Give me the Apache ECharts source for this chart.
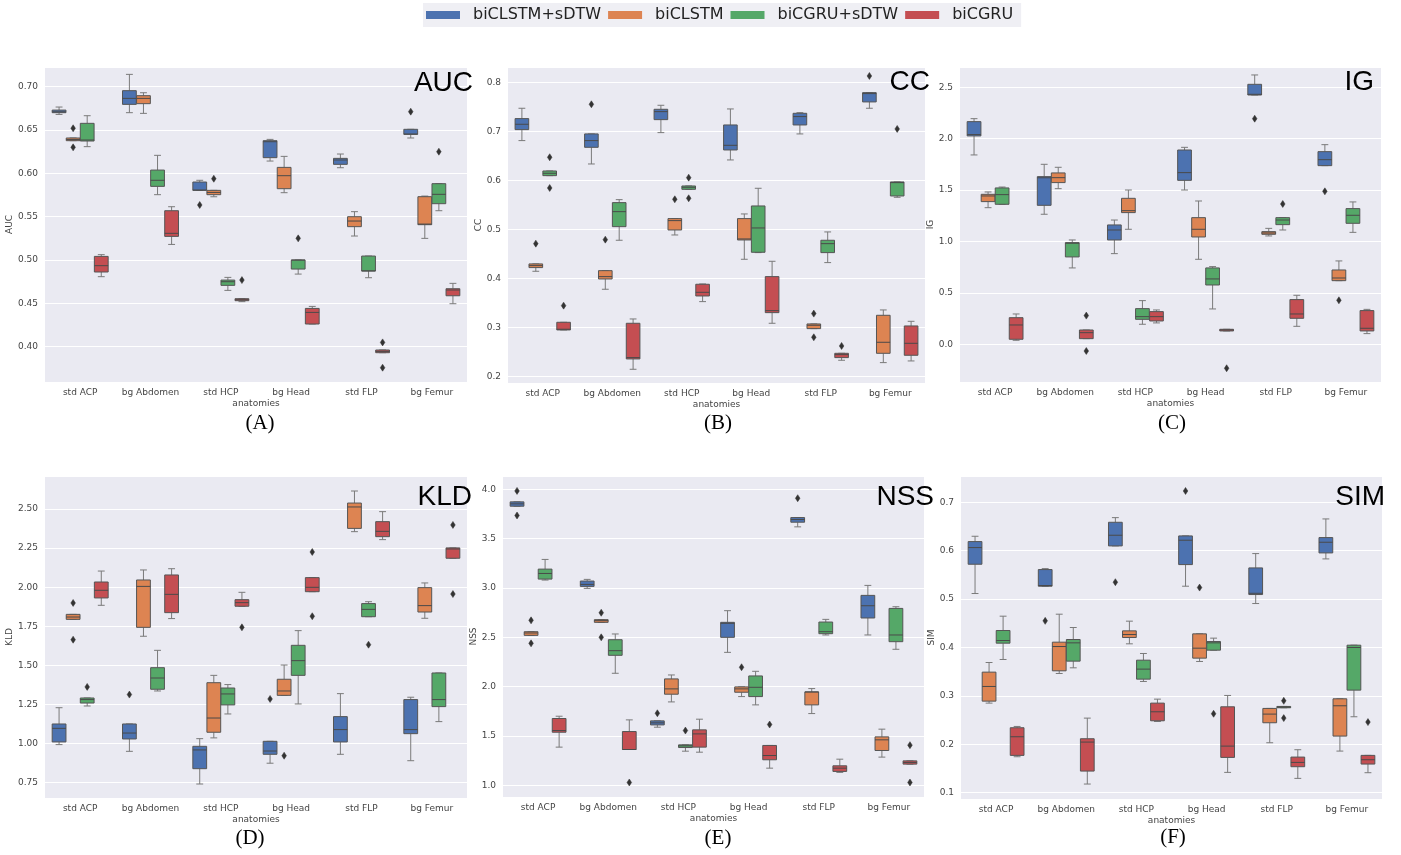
<!DOCTYPE html>
<html>
<head>
<meta charset="utf-8">
<title>Saliency metrics per anatomy</title>
<script src="https://cdn.jsdelivr.net/npm/echarts@6/dist/echarts.min.js"></script>
<style>
  html, body { margin: 0; padding: 0; background: #fff; }
  #main { width: 1401px; height: 855px; }
</style>
</head>
<body>
<div id="main"></div>
<script>
var anatomies = ['std ACP', 'bg Abdomen', 'std HCP', 'bg Head', 'std FLP', 'bg Femur'];
var models = ['biCLSTM+sDTW', 'biCLSTM', 'biCGRU+sDTW', 'biCGRU'];
var metrics = ['AUC', 'CC', 'IG', 'KLD', 'NSS', 'SIM'];
var letters = ['(A)', '(B)', '(C)', '(D)', '(E)', '(F)'];

// one block per model, one row per anatomy: [low whisker, q1, median, q3, high whisker]
var aucBoxes = [
  [[0.668, 0.670, 0.671, 0.673, 0.6765], [0.670, 0.6796, 0.6865, 0.6954, 0.7142], [0.5804, 0.5804, 0.5808, 0.590, 0.592],
   [0.6142, 0.6181, 0.6365, 0.6377, 0.6392], [0.6065, 0.6104, 0.6154, 0.6173, 0.6223], [0.6408, 0.645, 0.6454, 0.6508, 0.6508]],
  [[0.6377, 0.6377, 0.639, 0.6408, 0.6408], [0.6692, 0.6804, 0.6865, 0.6896, 0.693], [0.573, 0.5754, 0.578, 0.5804, 0.5804],
   [0.5777, 0.5823, 0.5973, 0.6069, 0.6196], [0.5277, 0.5385, 0.545, 0.55, 0.5558], [0.525, 0.5408, 0.5415, 0.5731, 0.5738]],
  [[0.6308, 0.6373, 0.6385, 0.6577, 0.6665], [0.5754, 0.585, 0.592, 0.6038, 0.6208], [0.465, 0.4708, 0.475, 0.4769, 0.48],
   [0.4838, 0.4896, 0.50, 0.50, 0.50], [0.4796, 0.4873, 0.4875, 0.5046, 0.5046], [0.5569, 0.565, 0.5758, 0.5881, 0.5881]],
  [[0.4808, 0.4862, 0.4935, 0.5042, 0.5062], [0.518, 0.5273, 0.5308, 0.5569, 0.5615], [0.452, 0.4531, 0.4542, 0.4554, 0.4554],
   [0.4262, 0.4262, 0.4396, 0.4442, 0.4465], [0.3931, 0.3931, 0.3946, 0.3962, 0.3962], [0.4496, 0.4588, 0.4654, 0.4669, 0.4731]]
];
var ccBoxes = [
  [[0.681, 0.7034, 0.7143, 0.7259, 0.747], [0.6333, 0.6673, 0.681, 0.6946, 0.6946], [0.6973, 0.7238, 0.7401, 0.7449, 0.7531],
   [0.6415, 0.6619, 0.6714, 0.7129, 0.7456], [0.6946, 0.7129, 0.73, 0.7367, 0.738], [0.747, 0.7599, 0.7769, 0.7789, 0.7789]],
  [[0.4143, 0.4218, 0.4259, 0.4293, 0.4293], [0.3776, 0.3986, 0.4034, 0.4156, 0.4156], [0.4884, 0.4986, 0.5177, 0.5218, 0.5218],
   [0.4388, 0.4782, 0.4803, 0.5218, 0.5313], [0.2973, 0.2973, 0.3041, 0.3068, 0.3068], [0.2279, 0.2469, 0.2694, 0.3245, 0.3354]],
  [[0.6095, 0.6095, 0.6143, 0.619, 0.619], [0.4776, 0.5054, 0.536, 0.5544, 0.5605], [0.5816, 0.5816, 0.5857, 0.5884, 0.5884],
   [0.4524, 0.4531, 0.5027, 0.5476, 0.5837], [0.432, 0.4524, 0.4707, 0.4776, 0.4946], [0.5653, 0.568, 0.5952, 0.5966, 0.5966]],
  [[0.2946, 0.2946, 0.296, 0.3102, 0.3102], [0.2143, 0.2354, 0.2381, 0.3082, 0.317], [0.3524, 0.3639, 0.3714, 0.3878, 0.3884],
   [0.3082, 0.3299, 0.334, 0.4034, 0.4347], [0.2327, 0.2381, 0.2442, 0.2469, 0.2469], [0.2313, 0.2429, 0.2673, 0.3027, 0.3122]]
];
var igBoxes = [
  [[1.842, 2.027, 2.04, 2.166, 2.195], [1.265, 1.352, 1.62, 1.631, 1.751], [0.882, 1.015, 1.112, 1.161, 1.209],
   [1.501, 1.595, 1.670, 1.890, 1.916], [2.425, 2.425, 2.432, 2.529, 2.620], [1.738, 1.738, 1.796, 1.874, 1.942]],
  [[1.329, 1.388, 1.443, 1.459, 1.482], [1.514, 1.573, 1.621, 1.667, 1.722], [1.119, 1.281, 1.30, 1.420, 1.501],
   [0.827, 1.044, 1.119, 1.232, 1.394], [1.054, 1.070, 1.083, 1.096, 1.128], [0.619, 0.619, 0.645, 0.723, 0.811]],
  [[1.362, 1.362, 1.456, 1.521, 1.530], [0.743, 0.850, 0.983, 0.989, 1.015], [0.195, 0.243, 0.269, 0.347, 0.425],
   [0.344, 0.577, 0.636, 0.743, 0.756], [1.112, 1.164, 1.209, 1.232, 1.232], [1.089, 1.177, 1.255, 1.320, 1.385]],
  [[0.039, 0.049, 0.188, 0.259, 0.295], [0.055, 0.055, 0.113, 0.139, 0.139], [0.208, 0.227, 0.269, 0.318, 0.334],
   [0.130, 0.130, 0.139, 0.146, 0.146], [0.175, 0.253, 0.295, 0.435, 0.477], [0.104, 0.130, 0.156, 0.328, 0.340]]
];
var kldBoxes = [
  [[0.993, 1.010, 1.097, 1.125, 1.229], [0.950, 1.029, 1.067, 1.125, 1.125], [0.741, 0.839, 0.959, 0.982, 1.031],
   [0.874, 0.931, 0.952, 1.014, 1.014], [0.931, 1.010, 1.089, 1.172, 1.319], [0.890, 1.063, 1.089, 1.281, 1.296]],
  [[1.794, 1.794, 1.809, 1.826, 1.826], [1.686, 1.743, 2.005, 2.046, 2.110], [1.036, 1.072, 1.163, 1.389, 1.436],
   [1.308, 1.308, 1.336, 1.411, 1.502], [2.355, 2.376, 2.513, 2.538, 2.615], [1.801, 1.841, 1.882, 1.997, 2.027]],
  [[1.240, 1.259, 1.281, 1.291, 1.291], [1.336, 1.347, 1.419, 1.485, 1.596], [1.189, 1.247, 1.317, 1.355, 1.377],
   [1.253, 1.436, 1.530, 1.628, 1.722], [1.811, 1.811, 1.858, 1.895, 1.907], [1.140, 1.236, 1.281, 1.451, 1.451]],
  [[1.884, 1.931, 1.980, 2.033, 2.103], [1.799, 1.837, 1.954, 2.078, 2.118], [1.878, 1.878, 1.901, 1.920, 1.967],
   [1.971, 1.971, 1.999, 2.061, 2.061], [2.304, 2.323, 2.357, 2.419, 2.483], [2.185, 2.185, 2.244, 2.251, 2.251]]
];
var nssBoxes = [
  [[3.828, 3.828, 3.852, 3.872, 3.872], [2.996, 3.016, 3.036, 3.070, 3.087], [1.590, 1.613, 1.634, 1.654, 1.654],
   [2.348, 2.500, 2.642, 2.652, 2.770], [3.619, 3.666, 3.693, 3.713, 3.713], [2.524, 2.696, 2.820, 2.925, 3.026]],
  [[2.520, 2.520, 2.544, 2.557, 2.557], [2.652, 2.652, 2.669, 2.679, 2.679], [1.846, 1.924, 1.978, 2.079, 2.119],
   [1.900, 1.944, 1.978, 1.998, 1.998], [1.728, 1.816, 1.947, 1.947, 1.981], [1.287, 1.354, 1.462, 1.492, 1.570]],
  [[3.080, 3.090, 3.147, 3.191, 3.289], [2.136, 2.318, 2.365, 2.476, 2.534], [1.347, 1.384, 1.401, 1.411, 1.411],
   [1.816, 1.900, 1.994, 2.109, 2.156], [2.524, 2.537, 2.557, 2.655, 2.682], [2.379, 2.456, 2.524, 2.793, 2.810]],
  [[1.388, 1.539, 1.556, 1.678, 1.701], [1.364, 1.364, 1.364, 1.546, 1.664], [1.337, 1.388, 1.522, 1.563, 1.671],
   [1.175, 1.260, 1.303, 1.405, 1.405], [1.132, 1.142, 1.175, 1.199, 1.266], [1.216, 1.216, 1.233, 1.249, 1.249]]
];
var simBoxes = [
  [[0.5115, 0.572, 0.6064, 0.6188, 0.6298], [0.5266, 0.5266, 0.528, 0.561, 0.563], [0.6099, 0.6099, 0.6319, 0.6587, 0.6683],
   [0.5266, 0.5713, 0.6216, 0.6305, 0.6305], [0.4908, 0.5094, 0.512, 0.5644, 0.594], [0.583, 0.5954, 0.6174, 0.6271, 0.6656]],
  [[0.2851, 0.2892, 0.3195, 0.3491, 0.369], [0.3463, 0.3518, 0.402, 0.411, 0.4688], [0.4076, 0.4206, 0.4268, 0.4344, 0.4544],
   [0.3711, 0.378, 0.3986, 0.4282, 0.4282], [0.2032, 0.2445, 0.2624, 0.2741, 0.2741], [0.186, 0.217, 0.2796, 0.294, 0.294]],
  [[0.3752, 0.4089, 0.4144, 0.4351, 0.4647], [0.358, 0.3718, 0.4096, 0.4165, 0.4413], [0.3298, 0.3346, 0.3553, 0.3738, 0.3876],
   [0.3945, 0.3945, 0.4096, 0.4124, 0.4193], [0.2755, 0.2755, 0.2768, 0.2782, 0.2782], [0.2569, 0.3119, 0.40, 0.4048, 0.4048]],
  [[0.1743, 0.1771, 0.2156, 0.2342, 0.2369], [0.1179, 0.1447, 0.2046, 0.2115, 0.2541], [0.2472, 0.2486, 0.2672, 0.2851, 0.2933],
   [0.142, 0.1729, 0.1963, 0.2775, 0.3009], [0.1296, 0.1537, 0.1626, 0.1736, 0.1888], [0.1413, 0.1592, 0.1681, 0.1771, 0.1771]]
];

// outliers: [anatomy index, model index, value]
var aucFliers = [[0, 1, 0.652], [0, 1, 0.630], [2, 0, 0.5635], [2, 1, 0.5938], [2, 3, 0.4769],
  [3, 2, 0.525], [4, 3, 0.405], [4, 3, 0.3758], [5, 0, 0.6712], [5, 2, 0.625]];
var ccFliers = [[0, 1, 0.4707], [0, 2, 0.647], [0, 2, 0.5843], [0, 3, 0.3442], [1, 0, 0.7551], [1, 1, 0.4789],
  [2, 1, 0.5612], [2, 2, 0.6054], [2, 2, 0.5633], [4, 1, 0.3279], [4, 1, 0.2796], [4, 3, 0.2619], [5, 0, 0.8129], [5, 2, 0.7048]];
var igFliers = [[1, 3, 0.279], [1, 3, -0.065], [3, 3, -0.233], [4, 0, 2.195], [4, 2, 1.365], [5, 0, 1.488], [5, 1, 0.428]];
var kldFliers = [[0, 1, 1.899], [0, 1, 1.664], [0, 2, 1.362], [1, 0, 1.313], [2, 3, 1.743], [3, 0, 1.285], [3, 1, 0.922],
  [3, 3, 2.225], [3, 3, 1.814], [4, 2, 1.632], [5, 3, 2.398], [5, 3, 1.956]];
var nssFliers = [[0, 0, 3.983], [0, 0, 3.734], [0, 1, 2.672], [0, 1, 2.439], [1, 1, 2.749], [1, 1, 2.50], [1, 3, 1.030],
  [2, 0, 1.731], [2, 2, 1.556], [3, 1, 2.197], [3, 3, 1.617], [4, 0, 3.909], [5, 3, 1.408], [5, 3, 1.030]];
var simFliers = [[1, 0, 0.455], [2, 0, 0.5349], [3, 0, 0.7234], [3, 1, 0.5238], [3, 2, 0.2631], [4, 2, 0.2899],
  [4, 2, 0.2541], [5, 3, 0.2459]];

var allBoxes = [aucBoxes, ccBoxes, igBoxes, kldBoxes, nssBoxes, simBoxes];
var allFliers = [aucFliers, ccFliers, igFliers, kldFliers, nssFliers, simFliers];

// layout of each panel (pixels) and its y range
var panels = [
  { left: 45, top: 67, width: 422, height: 315, min: 0.3593, max: 0.7227, step: 0.05, dec: 2, nameGap: 26, tx: 473, ty: 83, lx: 260, ly: 423 },
  { left: 508, top: 67, width: 417, height: 316, min: 0.1863, max: 0.8312, step: 0.1, dec: 1, nameGap: 22, tx: 930, ty: 82, lx: 718, ly: 423 },
  { left: 960, top: 67, width: 421, height: 315, min: -0.3667, max: 2.6975, step: 0.5, dec: 1, nameGap: 22, tx: 1374, ty: 82, lx: 1172, ly: 423 },
  { left: 45, top: 476, width: 422, height: 322, min: 0.6515, max: 2.711, step: 0.25, dec: 2, nameGap: 27, tx: 472, ty: 497, lx: 250, ly: 838 },
  { left: 503, top: 476, width: 421, height: 321, min: 0.883, max: 4.134, step: 0.5, dec: 1, nameGap: 22, tx: 934, ty: 497, lx: 718, ly: 838 },
  { left: 961, top: 476, width: 421, height: 323, min: 0.087, max: 0.7543, step: 0.1, dec: 1, nameGap: 22, tx: 1385, ty: 497, lx: 1173, ly: 837 }
];

var colors = ['#4C72B0', '#DD8452', '#55A868', '#C44E52'];
var edgeGray = '#555555';
var whiskerGray = '#7a7a7a';
var labelColor = '#444444';

function boxRenderer(m) {
  return function (params, api) {
    var cat = api.value(0);
    var slot = api.size([1, 0])[0] * 0.2;
    var w = slot * 0.98;
    var x = api.coord([cat, api.value(3)])[0] + (m - 1.5) * slot;
    var yLo = api.coord([cat, api.value(1)])[1];
    var yQ1 = api.coord([cat, api.value(2)])[1];
    var yMed = api.coord([cat, api.value(3)])[1];
    var yQ3 = api.coord([cat, api.value(4)])[1];
    var yHi = api.coord([cat, api.value(5)])[1];
    var wl = { stroke: whiskerGray, lineWidth: 1 };
    return {
      type: 'group',
      children: [
        { type: 'line', shape: { x1: x, y1: yHi, x2: x, y2: yQ3 }, style: wl },
        { type: 'line', shape: { x1: x, y1: yQ1, x2: x, y2: yLo }, style: wl },
        { type: 'line', shape: { x1: x - w / 4, y1: yHi, x2: x + w / 4, y2: yHi }, style: wl },
        { type: 'line', shape: { x1: x - w / 4, y1: yLo, x2: x + w / 4, y2: yLo }, style: wl },
        { type: 'rect', shape: { x: x - w / 2, y: yQ3, width: w, height: Math.max(yQ1 - yQ3, 1) },
          style: { fill: colors[m], stroke: edgeGray, lineWidth: 1 } },
        { type: 'line', shape: { x1: x - w / 2, y1: yMed, x2: x + w / 2, y2: yMed }, style: { stroke: '#4a4a4a', lineWidth: 1 } }
      ]
    };
  };
}

function flierRenderer(m) {
  return function (params, api) {
    var slot = api.size([1, 0])[0] * 0.2;
    var pt = api.coord([api.value(0), api.value(1)]);
    var x = pt[0] + (m - 1.5) * slot;
    var y = pt[1];
    return {
      type: 'polygon',
      shape: { points: [[x, y - 3.5], [x + 2.3, y], [x, y + 3.5], [x - 2.3, y]] },
      style: { fill: '#333333', stroke: '#333333', lineWidth: 0.5 }
    };
  };
}

var grids = [], xAxes = [], yAxes = [], series = [], graphics = [];

panels.forEach(function (lay, p) {
  grids.push({
    left: lay.left, top: lay.top, width: lay.width, height: lay.height,
    show: true, backgroundColor: '#EAEAF2', borderWidth: 0
  });
  xAxes.push({
    gridIndex: p, type: 'category', data: anatomies,
    name: 'anatomies', nameLocation: 'middle', nameGap: 17,
    nameTextStyle: { fontSize: 9, color: labelColor, fontFamily: 'DejaVu Sans' },
    axisLine: { show: false }, axisTick: { show: false },
    axisLabel: { interval: 0, fontSize: 9, color: labelColor, margin: 6, fontFamily: 'DejaVu Sans' },
    splitLine: { show: false }
  });
  yAxes.push({
    gridIndex: p, type: 'value', min: lay.min, max: lay.max,
    minInterval: lay.step, maxInterval: lay.step,
    name: metrics[p], nameLocation: 'middle', nameGap: lay.nameGap, nameRotate: 90,
    nameTextStyle: { fontSize: 9, color: labelColor, fontFamily: 'DejaVu Sans' },
    axisLine: { show: false }, axisTick: { show: false },
    axisLabel: {
      fontSize: 9, color: labelColor, margin: 7, fontFamily: 'DejaVu Sans',
      formatter: function (v) {
        var k = v / lay.step;
        return Math.abs(k - Math.round(k)) < 1e-6 ? v.toFixed(lay.dec) : '';
      }
    },
    splitLine: { lineStyle: { color: '#ffffff', width: 1 } }
  });

  models.forEach(function (name, m) {
    series.push({
      name: name, type: 'custom', xAxisIndex: p, yAxisIndex: p,
      itemStyle: { color: colors[m] },
      renderItem: boxRenderer(m),
      encode: { x: 0, y: [1, 2, 3, 4, 5] },
      data: allBoxes[p][m].map(function (b, i) { return [i].concat(b); })
    });
  });
  models.forEach(function (name, m) {
    series.push({
      name: name, type: 'custom', xAxisIndex: p, yAxisIndex: p,
      itemStyle: { color: colors[m] },
      renderItem: flierRenderer(m),
      encode: { x: 0, y: 1 },
      data: allFliers[p].filter(function (f) { return f[1] === m; })
        .map(function (f) { return [f[0], f[2]]; })
    });
  });

  graphics.push({
    type: 'text', x: lay.tx, y: lay.ty, z: 100,
    style: { text: metrics[p], font: '28px "Liberation Sans"', fill: '#000',
      align: 'right', verticalAlign: 'middle', textAlign: 'right', textVerticalAlign: 'middle' }
  });
  graphics.push({
    type: 'text', x: lay.lx, y: lay.ly, z: 100,
    style: { text: letters[p], font: '21px "Liberation Serif"', fill: '#000',
      align: 'center', verticalAlign: 'middle', textAlign: 'center', textVerticalAlign: 'middle' }
  });
});

var chart = echarts.init(document.getElementById('main'), null, { renderer: 'canvas' });
chart.setOption({
  animation: false,
  backgroundColor: '#ffffff',
  legend: {
    data: models, left: 423, top: 3, icon: 'rect',
    itemWidth: 34, itemHeight: 8, itemGap: 7,
    padding: [4, 8, 4, 3],
    backgroundColor: '#efeff4',
    textStyle: { fontSize: 16, color: '#222', fontFamily: 'DejaVu Sans', padding: [0, 0, 0, 8] }
  },
  grid: grids,
  xAxis: xAxes,
  yAxis: yAxes,
  series: series,
  graphic: graphics
});
</script>
</body>
</html>
